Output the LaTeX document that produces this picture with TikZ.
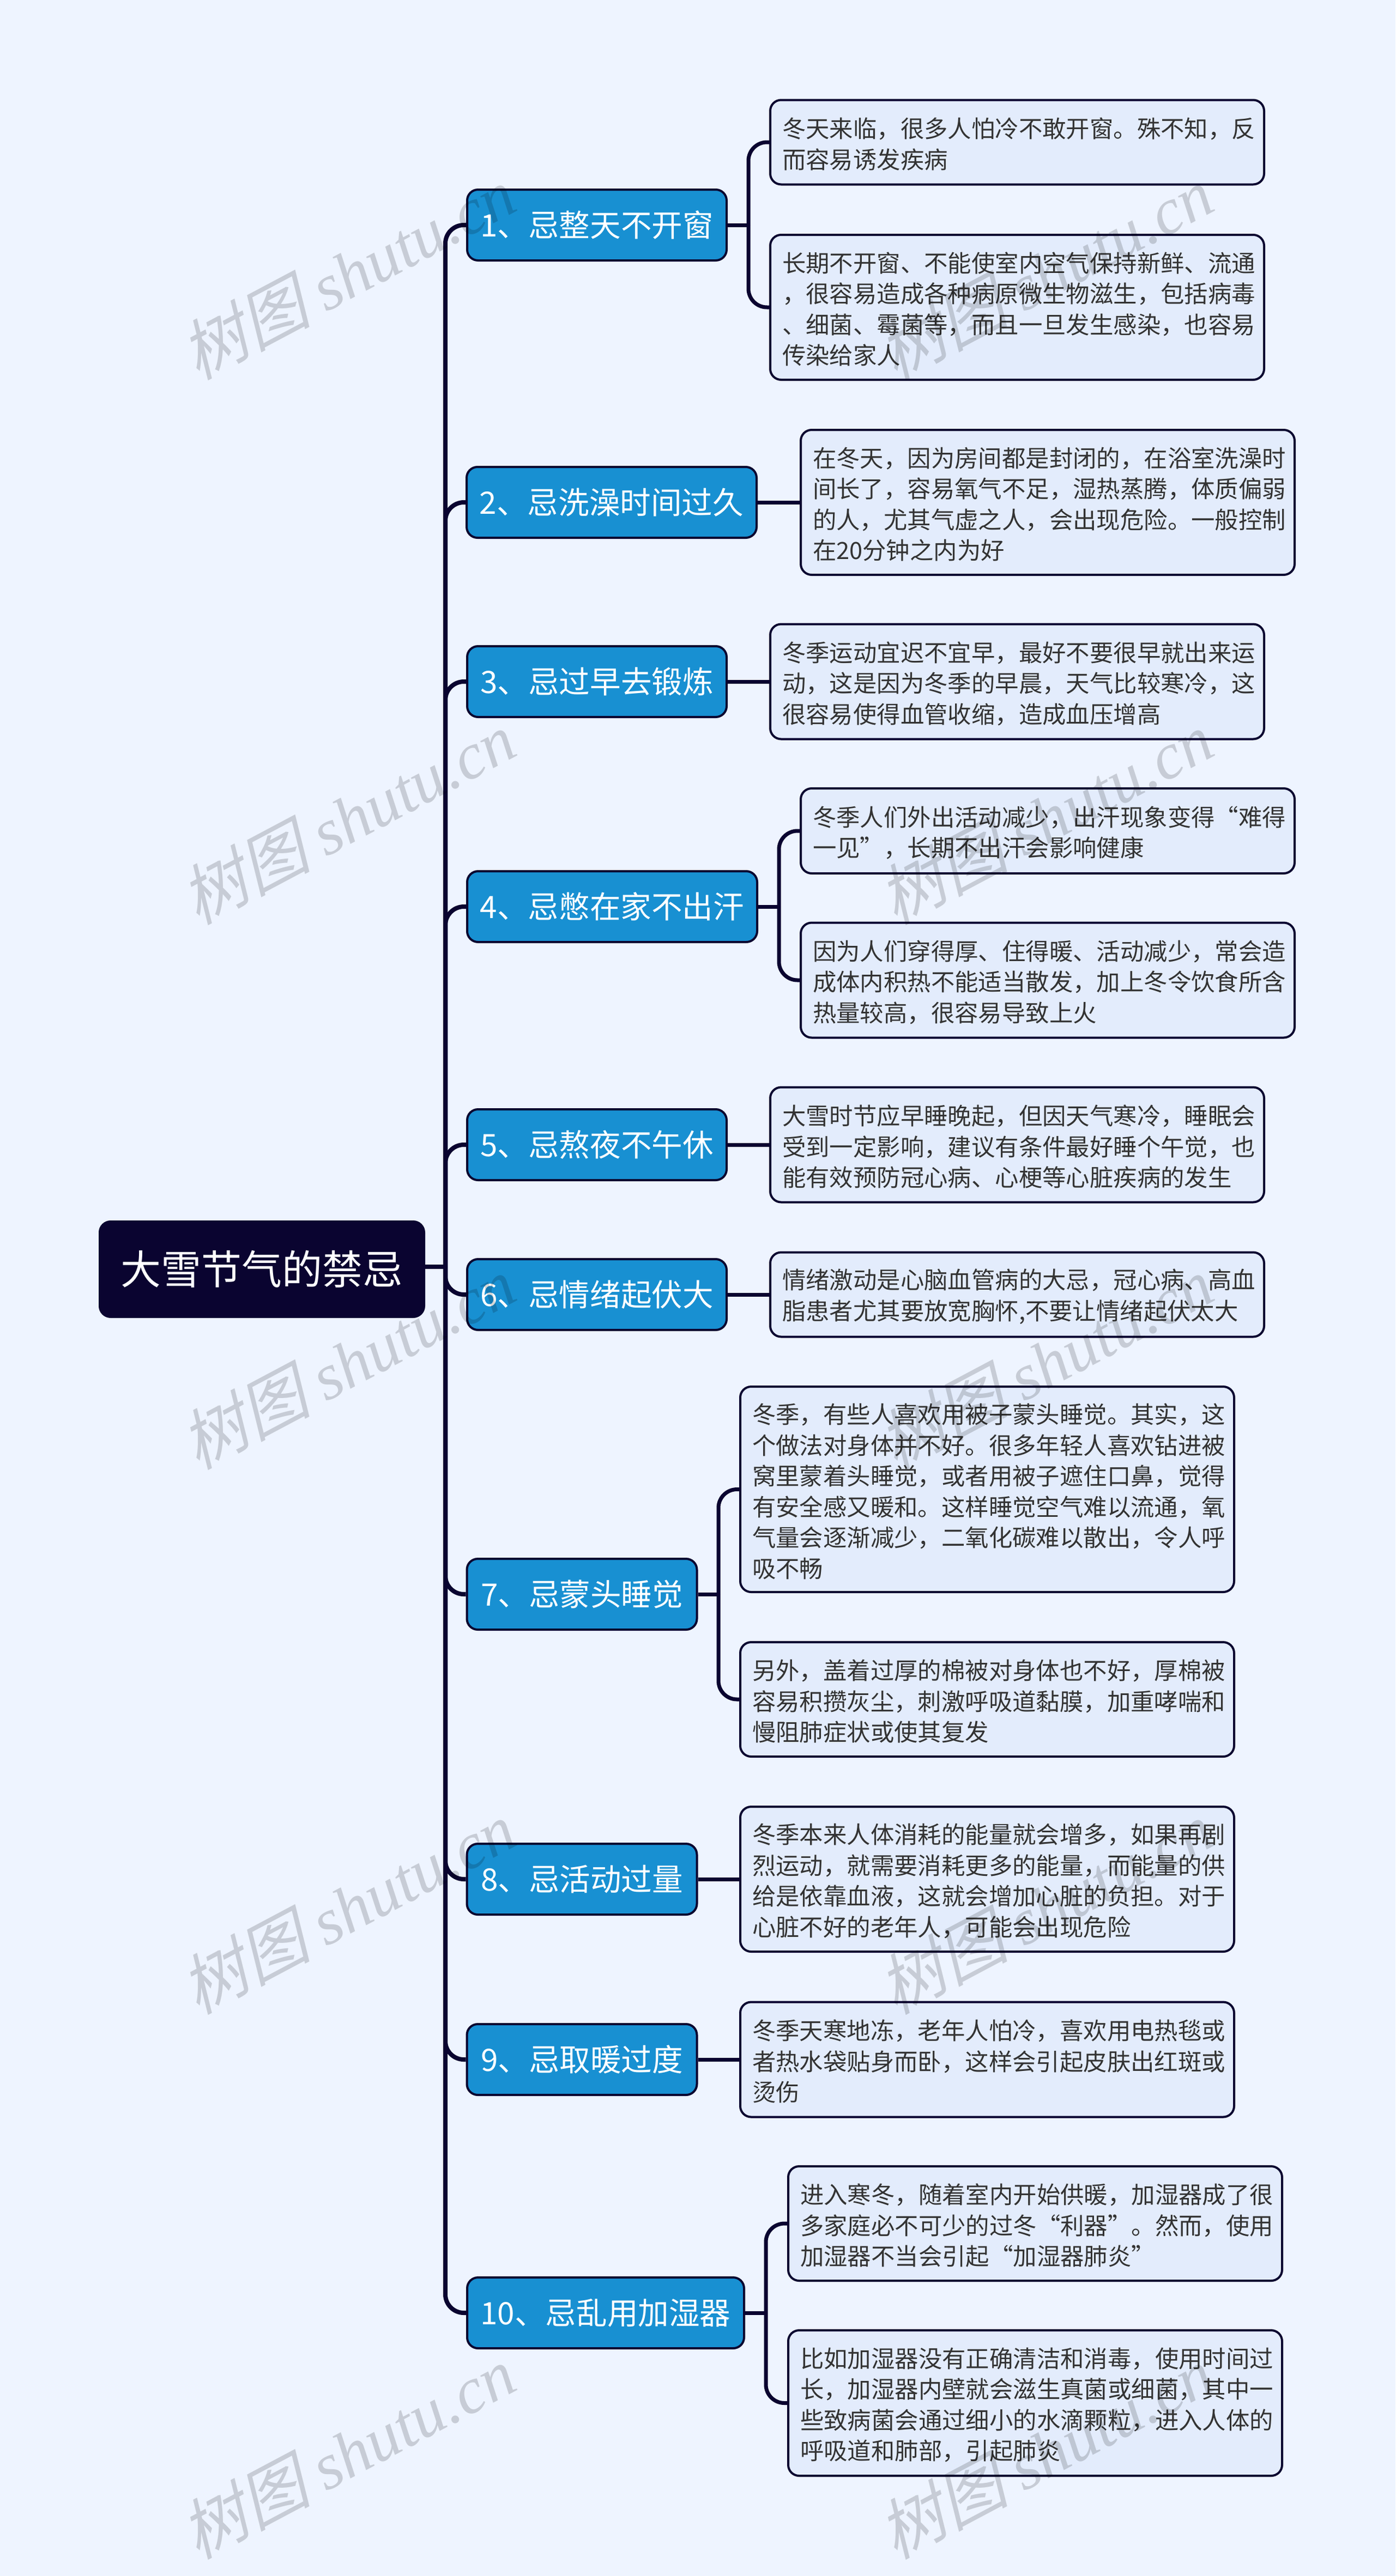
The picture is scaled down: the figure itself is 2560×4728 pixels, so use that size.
\documentclass[tikz,border=0pt]{standalone}
\usepackage{fontspec}
\setmainfont{Noto Sans CJK SC}
\newfontfamily\markfont[FakeSlant=0.25]{Noto Sans CJK SC}
\newfontfamily\marklatin{Liberation Serif}[ItalicFont=* Italic]
\usetikzlibrary{positioning}
\definecolor{pagebg}{HTML}{EEF4FF}
\definecolor{navy}{HTML}{0A0430}
\definecolor{branchblue}{HTML}{1890D2}
\definecolor{leaffill}{HTML}{E3ECFC}
\definecolor{leaftext}{HTML}{333333}
\tikzset{
  rootbox/.style={draw=navy,line width=2pt,fill=navy,rounded corners=10pt,text=white,
    font=\fontsize{37}{44}\selectfont,minimum width=297.5pt,minimum height=87.5pt,inner sep=0pt},
  branchbox/.style={draw=navy,line width=2pt,fill=branchblue,rounded corners=10pt,text=white,
    font=\fontsize{28.3}{33}\selectfont,minimum height=65pt,inner sep=0pt},
  leafbox/.style={draw=navy,line width=2pt,fill=leaffill,rounded corners=10pt,text=leaftext,
    font=\fontsize{21.7}{28.25}\selectfont,align=left,text width=431pt,minimum width=453pt,inner xsep=11pt,inner ysep=0pt,
    execute at begin node={\rule{0pt}{22pt}}},
  trunkline/.style={draw=navy,line width=4pt,rounded corners=17pt},
  twigline/.style={draw=navy,line width=3.5pt,rounded corners=17pt},
  markstyle/.style={rotate=28,text=black,opacity=0.16,inner sep=0pt}
}
\newcommand{\wmark}[2]{\node[markstyle] (#1) at (#2) {\fontsize{60}{60}\selectfont{\markfont 树图} \marklatin\itshape shutu.cn};}
\begin{document}
\begin{tikzpicture}[x=0.5pt,y=-0.5pt]
  \useasboundingbox (0,0) rectangle (2560,4728);
  \fill[pagebg] (0,0) rectangle (2560,4728);

  % centre node
  \node[rootbox] (root) at (480.5,2329.5) {大雪节气的禁忌};

  % branches
  \node[branchbox,minimum width=238pt] (n1) at (1095,413) {1、忌整天不开窗};
  \node[branchbox,minimum width=266pt] (n2) at (1122,922) {2、忌洗澡时间过久};
  \node[branchbox,minimum width=238pt] (n3) at (1095,1251) {3、忌过早去锻炼};
  \node[branchbox,minimum width=266pt] (n4) at (1123,1664) {4、忌憋在家不出汗};
  \node[branchbox,minimum width=238pt] (n5) at (1095,2101) {5、忌熬夜不午休};
  \node[branchbox,minimum width=238pt] (n6) at (1095,2376) {6、忌情绪起伏大};
  \node[branchbox,minimum width=211pt] (n7) at (1067.5,2926) {7、忌蒙头睡觉};
  \node[branchbox,minimum width=211pt] (n8) at (1067.5,3449) {8、忌活动过量};
  \node[branchbox,minimum width=211pt] (n9) at (1067.5,3780) {9、忌取暖过度};
  \node[branchbox,minimum width=254pt] (n10) at (1111,4245) {10、忌乱用加湿器};

  % leaves
  \node[leafbox,minimum height=77.5pt] (a1) at (1866,261) {冬天来临，很多人怕冷不敢开窗。殊不知，反\\而容易诱发疾病};
  \node[leafbox,minimum height=133pt] (a2) at (1866,564) {长期不开窗、不能使室内空气保持新鲜、流通\\，很容易造成各种病原微生物滋生，包括病毒\\、细菌、霉菌等，而且一旦发生感染，也容易\\传染给家人};
  \node[leafbox,minimum height=133pt] (b1) at (1922,922) {在冬天，因为房间都是封闭的，在浴室洗澡时\\间长了，容易氧气不足，湿热蒸腾，体质偏弱\\的人，尤其气虚之人，会出现危险。一般控制\\在20分钟之内为好};
  \node[leafbox,minimum height=105.5pt] (c1) at (1866,1251) {冬季运动宜迟不宜早，最好不要很早就出来运\\动，这是因为冬季的早晨，天气比较寒冷，这\\很容易使得血管收缩，造成血压增高};
  \node[leafbox,minimum height=78pt] (d1) at (1922,1525) {冬季人们外出活动减少，出汗现象变得“难得\\一见”，长期不出汗会影响健康};
  \node[leafbox,minimum height=105.5pt] (d2) at (1922,1799) {因为人们穿得厚、住得暖、活动减少，常会造\\成体内积热不能适当散发，加上冬令饮食所含\\热量较高，很容易导致上火};
  \node[leafbox,minimum height=105.5pt] (e1) at (1866,2101) {大雪时节应早睡晚起，但因天气寒冷，睡眠会\\受到一定影响，建议有条件最好睡个午觉，也\\能有效预防冠心病、心梗等心脏疾病的发生};
  \node[leafbox,minimum height=77.5pt] (f1) at (1866,2376) {情绪激动是心脑血管病的大忌，冠心病、高血\\脂患者尤其要放宽胸怀,不要让情绪起伏太大};
  \node[leafbox,minimum height=188.5pt] (g1) at (1811,2733.5) {冬季，有些人喜欢用被子蒙头睡觉。其实，这\\个做法对身体并不好。很多年轻人喜欢钻进被\\窝里蒙着头睡觉，或者用被子遮住口鼻，觉得\\有安全感又暖和。这样睡觉空气难以流通，氧\\气量会逐渐减少，二氧化碳难以散出，令人呼\\吸不畅};
  \node[leafbox,minimum height=105pt] (g2) at (1811,3119) {另外，盖着过厚的棉被对身体也不好，厚棉被\\容易积攒灰尘，刺激呼吸道黏膜，加重哮喘和\\慢阻肺症状或使其复发};
  \node[leafbox,minimum height=133pt] (h1) at (1811,3449) {冬季本来人体消耗的能量就会增多，如果再剧\\烈运动，就需要消耗更多的能量，而能量的供\\给是依靠血液，这就会增加心脏的负担。对于\\心脏不好的老年人，可能会出现危险};
  \node[leafbox,minimum height=105.5pt] (i1) at (1811,3780) {冬季天寒地冻，老年人怕冷，喜欢用电热毯或\\者热水袋贴身而卧，这样会引起皮肤出红斑或\\烫伤};
  \node[leafbox,minimum height=105pt] (j1) at (1899,4081) {进入寒冬，随着室内开始供暖，加湿器成了很\\多家庭必不可少的过冬“利器”。然而，使用\\加湿器不当会引起“加湿器肺炎”};
  \node[leafbox,minimum height=133.5pt] (j2) at (1899,4410.5) {比如加湿器没有正确清洁和消毒，使用时间过\\长，加湿器内壁就会滋生真菌或细菌，其中一\\些致病菌会通过细小的水滴颗粒，进入人体的\\呼吸道和肺部，引起肺炎};

  % connectors
  \coordinate (hub) at (817,2325);
  \draw[trunkline] (root.east |- hub) -- (hub);
  \draw[trunkline] (hub) |- (n1.west);
  \draw[trunkline] (hub) |- (n2.west);
  \draw[trunkline] (hub) |- (n3.west);
  \draw[trunkline] (hub) |- (n4.west);
  \draw[trunkline] (hub) |- (n5.west);
  \draw[trunkline] (hub) |- (n6.west);
  \draw[trunkline] (hub) |- (n7.west);
  \draw[trunkline] (hub) |- (n8.west);
  \draw[trunkline] (hub) |- (n9.west);
  \draw[trunkline] (hub) |- (n10.west);

  \coordinate (hub1) at (1373,413);
  \draw[twigline] (n1.east) -- (hub1);
  \draw[twigline] (hub1) |- (a1.west);
  \draw[twigline] (hub1) |- (a2.west);
  \draw[twigline] (n2.east) -- (b1.west);
  \draw[twigline] (n3.east) -- (c1.west);
  \coordinate (hub4) at (1429,1664);
  \draw[twigline] (n4.east) -- (hub4);
  \draw[twigline] (hub4) |- (d1.west);
  \draw[twigline] (hub4) |- (d2.west);
  \draw[twigline] (n5.east) -- (e1.west);
  \draw[twigline] (n6.east) -- (f1.west);
  \coordinate (hub7) at (1318,2926);
  \draw[twigline] (n7.east) -- (hub7);
  \draw[twigline] (hub7) |- (g1.west);
  \draw[twigline] (hub7) |- (g2.west);
  \draw[twigline] (n8.east) -- (h1.west);
  \draw[twigline] (n9.east) -- (i1.west);
  \coordinate (hub10) at (1405,4245);
  \draw[twigline] (n10.east) -- (hub10);
  \draw[twigline] (hub10) |- (j1.west);
  \draw[twigline] (hub10) |- (j2.west);

  % watermark
  \wmark{w1}{637,501}
  \wmark{w2}{637,1501}
  \wmark{w3}{637,2501}
  \wmark{w4}{637,3501}
  \wmark{w5}{637,4501}
  \wmark{w6}{1917,501}
  \wmark{w7}{1917,1501}
  \wmark{w8}{1917,2501}
  \wmark{w9}{1917,3501}
  \wmark{w10}{1917,4501}
\end{tikzpicture}
\end{document}
